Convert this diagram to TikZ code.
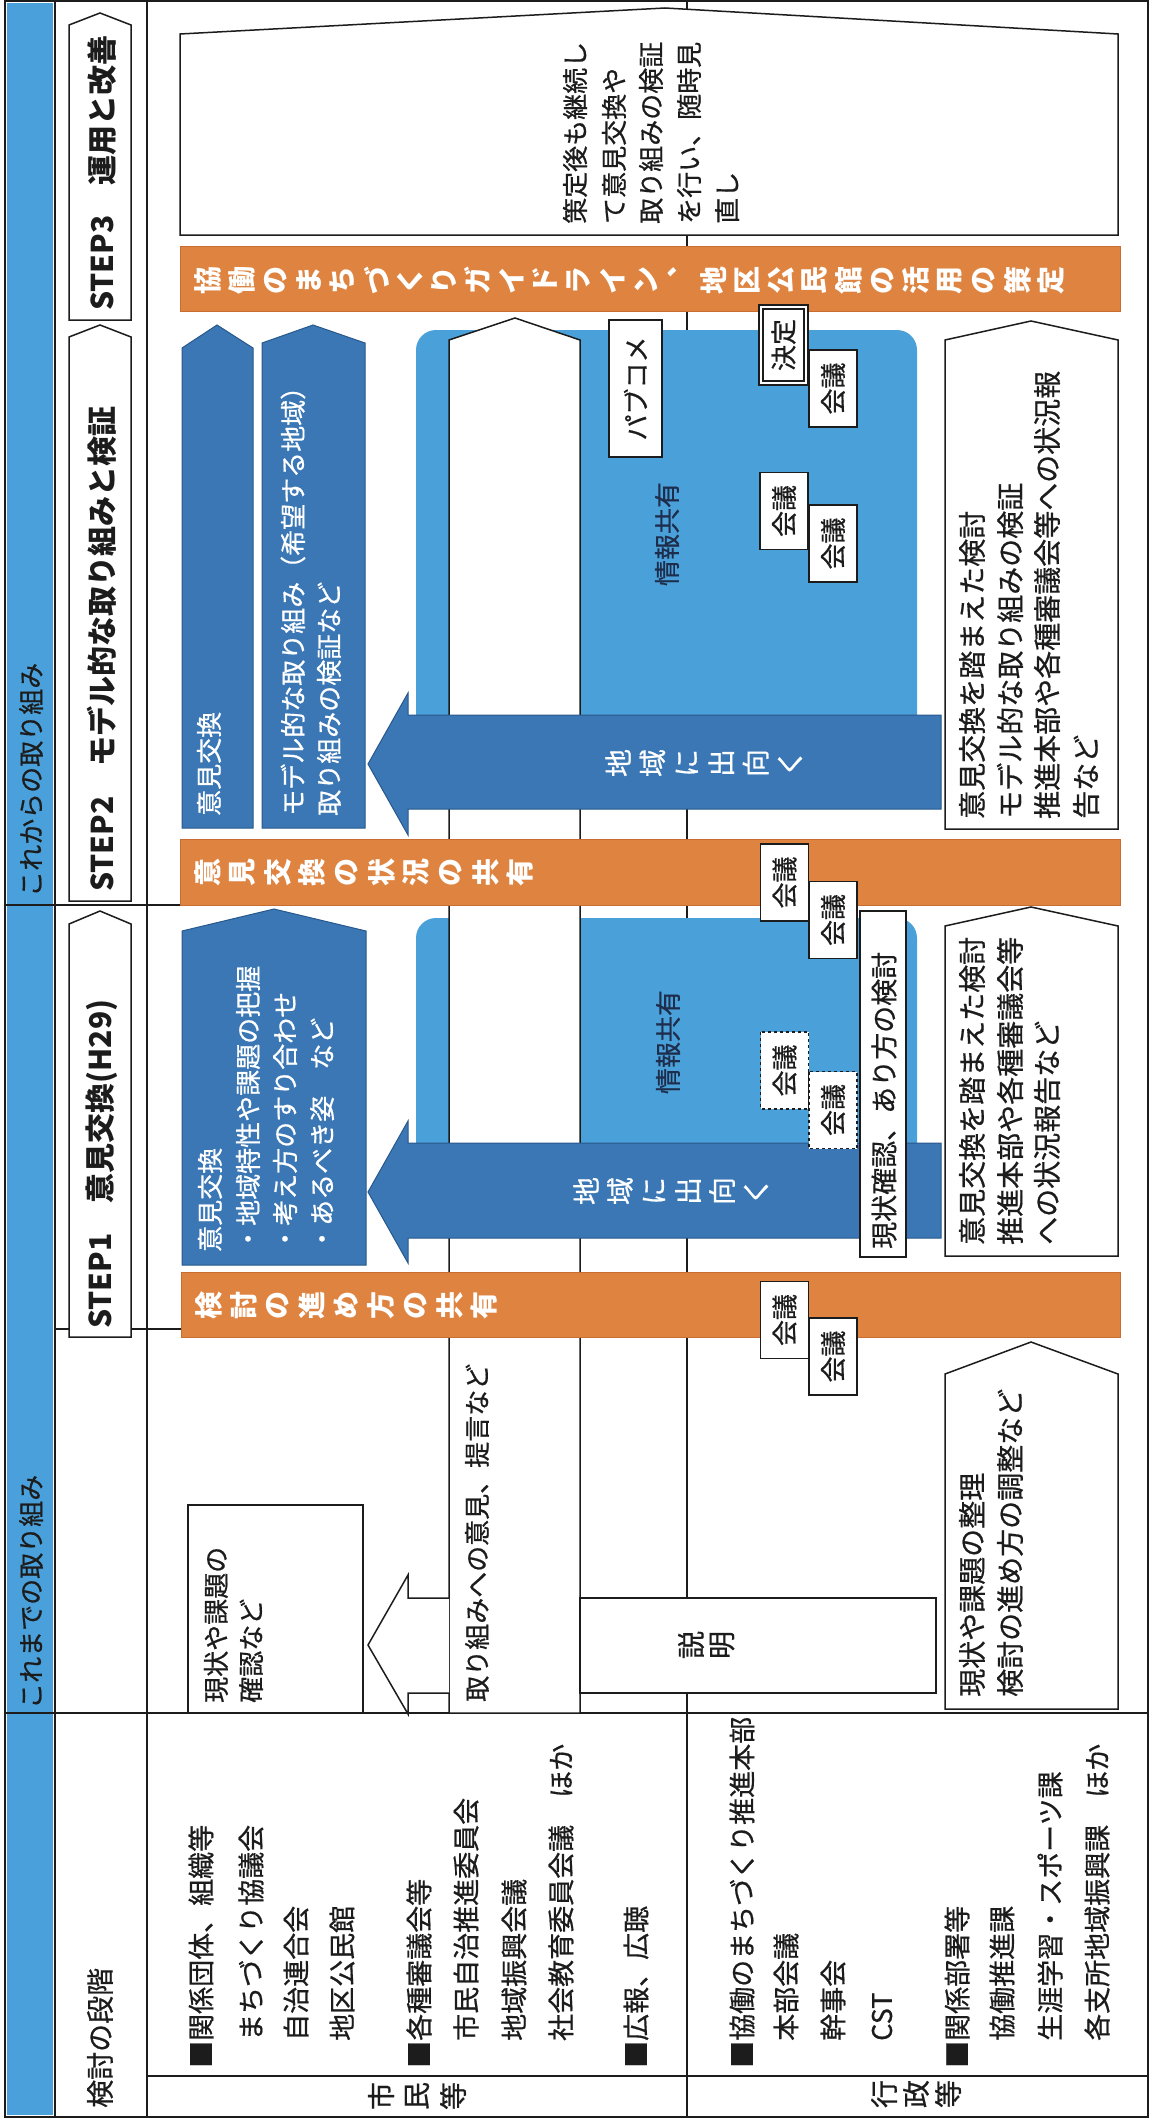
\documentclass[tikz,border=0pt]{standalone}
\usepackage{fontspec}
\setmainfont{Noto Sans CJK JP}
\newfontfamily\rgf{Noto Sans CJK JP}[FakeBold=0.6]
\definecolor{orng}{RGB}{222,131,64}
\definecolor{orngd}{RGB}{200,108,50}
\definecolor{dblue}{RGB}{58,119,180}
\definecolor{dblued}{RGB}{40,88,140}
\definecolor{lblue}{RGB}{74,160,217}
\definecolor{hblue}{RGB}{74,160,218}
\definecolor{ink}{RGB}{28,28,28}
\definecolor{navy}{RGB}{30,45,75}
\begin{document}
\begin{tikzpicture}[x=1pt,y=-1pt,
 tline/.style={draw=ink,line width=1.6pt},
 wshape/.style={draw=ink,fill=white,line width=1.5pt},
 dshape/.style={draw=dblued,fill=dblue,line width=1pt},
 obar/.style={draw=orngd,fill=orng,line width=1pt},
 txt/.style={rotate=90,anchor=west,inner sep=0pt,text=ink,font=\rgf\fontsize{26}{26}\selectfont},
 txtb/.style={txt,font=\rgf\fontsize{28}{28}\selectfont},
 txtl/.style={txt,font=\rgf\fontsize{27}{27}\selectfont},
 wtxt/.style={txt,text=white},
 steptxt/.style={txt,font=\bfseries\fontsize{30}{30}\selectfont},
 barch/.style={rotate=90,inner sep=0pt,text=white,font=\bfseries\fontsize{28}{28}\selectfont},
 armch/.style={rotate=90,inner sep=0pt,text=white,font=\rgf\fontsize{28}{28}\selectfont},
 tch/.style={rotate=90,inner sep=0pt,text=ink,font=\rgf\fontsize{28}{28}\selectfont},
 kbox/.style={rotate=90,draw=ink,fill=white,line width=1.3pt,minimum width=77pt,minimum height=48pt,inner sep=0pt,text=ink,font=\rgf\fontsize{26}{26}\selectfont},
 kdash/.style={kbox,dashed},
]
\useasboundingbox (0,0) rectangle (1154,2119);
\fill[white] (0,0) rectangle (1154,2119);
% header column
\fill[hblue] (7,3) rectangle (53,2115);
% table lines
\draw[tline] (5,1) rectangle (1148,2117);
\draw[tline] (55,1) -- (55,2117);
\draw[tline] (147,1) -- (147,2117);
\draw[tline] (5,905) -- (182,905);
\draw[tline] (55,1329) -- (182,1329);
\draw[tline] (5,1713) -- (1148,1713);
\draw[tline] (147,2076) -- (1148,2076);
\draw[tline] (687,1) -- (687,2117);

% header texts
\node[txt] (h1) at (31,897) {これからの取り組み};
\node[txt] (h2) at (31,1709) {これまでの取り組み};

% step labels
\draw[wshape] (69,320) -- (69,25) -- (100,13) -- (131,25) -- (131,320) -- cycle;
\draw[wshape] (69,901) -- (69,337) -- (100,325) -- (131,337) -- (131,901) -- cycle;
\draw[wshape] (69,1337) -- (69,924) -- (100,911) -- (131,924) -- (131,1337) -- cycle;
\node[steptxt] (s3) at (102,311) {STEP3　運用と改善};
\node[steptxt] (s2) at (102,892) {STEP2　モデル的な取り組みと検証};
\node[steptxt] (s1) at (102,1329) {STEP1　意見交換(H29)};
\node[txtb] (kd) at (100,2108) {検討の段階};

% STEP3 box
\draw[wshape] (180,235) -- (180,34) -- (665,8) -- (1118,34) -- (1118,235) -- cycle;
\node[txt] (t31) at (575,224) {策定後も継続し};
\node[txt] (t32) at (614,224) {て意見交換や};
\node[txt] (t33) at (651,224) {取り組みの検証};
\node[txt] (t34) at (689,224) {を行い、随時見};
\node[txt] (t35) at (727,224) {直し};

% light blue areas
\fill[lblue,rounded corners=20pt] (416,330) rectangle (917,800);
\fill[lblue,rounded corners=20pt] (416,918) rectangle (917,1230);

% long white arrow (citizens)
\draw[wshape] (449,1713) -- (449,340) -- (515,318) -- (580,340) -- (580,1713) -- cycle;

% orange bars
\draw[obar] (180,246) rectangle (1120,311);
\draw[obar] (180,839) rectangle (1120,905);
\draw[obar] (181,1272) rectangle (1120,1337);
\foreach \c [count=\i from 0] in {協,働,の,ま,ち,づ,く,り,ガ,イ,ド,ラ,イ,ン,︑,地,区,公,民,館,の,活,用,の,策,定}
  \node[barch] (b3c\i) at ({208+33.72*\i},280) {\c};
\foreach \c [count=\i from 0] in {意,見,交,換,の,状,況,の,共,有}
  \node[barch] (b2c\i) at ({208+34.7*\i},872) {\c};
\foreach \c [count=\i from 0] in {検,討,の,進,め,方,の,共,有}
  \node[barch] (b1c\i) at ({209+34.4*\i},1305) {\c};

% STEP2 dark shapes
\draw[dshape] (182,828) -- (182,348) -- (217,325) -- (253,348) -- (253,828) -- cycle;
\draw[dshape] (262,828) -- (262,343) -- (313,325) -- (365,343) -- (365,828) -- cycle;
\node[wtxt] (p1) at (209,816) {意見交換};
\node[wtxt] (p21) at (293,816) {モデル的な取り組み（希望する地域）};
\node[wtxt] (p22) at (329,816) {取り組みの検証など};
\draw[dshape] (941,715) -- (408,715) -- (408,693) -- (368,764) -- (408,835) -- (408,809) -- (941,809) -- cycle;
\foreach \c [count=\i from 0] in {地,域,に,出,向,く}
  \node[armch] (a2c\i) at ({618+34.4*\i},763) {\c};

% STEP1 dark shapes
\draw[dshape] (182,1265) -- (182,931) -- (274,909) -- (366,931) -- (366,1265) -- cycle;
\node[wtxt] (q1) at (210,1252) {意見交換};
\node[wtxt] (q2) at (248,1252) {・地域特性や課題の把握};
\node[wtxt] (q3) at (285,1252) {・考え方のすり合わせ};
\node[wtxt] (q4) at (322,1252) {・あるべき姿　など};
\draw[dshape] (941,1143) -- (408,1143) -- (408,1121) -- (368,1192) -- (408,1263) -- (408,1238) -- (941,1238) -- cycle;
\foreach \c [count=\i from 0] in {地,域,に,出,向,く}
  \node[armch] (a1c\i) at ({586+34*\i},1191) {\c};

% info sharing labels
\node[txt,anchor=center,text=navy] (j2) at (667,534) {情報共有};
\node[txt,anchor=center,text=navy] (j1) at (668,1042) {情報共有};

% STEP2 boxes
\node[kbox,minimum width=137pt,minimum height=53pt] (pc) at (635.5,388.5) {パブコメ};
\node[kbox,double,double distance=2.5pt,minimum width=76pt,minimum height=45pt] (kt) at (783.5,345) {決定};
\node[kbox] (k1) at (833,388.5) {会議};
\node[kbox] (k2) at (784,511) {会議};
\node[kbox] (k3) at (833,543.5) {会議};
% bar2 boxes
\node[kbox] (k4) at (784.5,882.5) {会議};
\node[kbox] (k5) at (833,920) {会議};
% STEP1 dashed
\node[kdash] (k6) at (784.5,1070.5) {会議};
\node[kdash] (k7) at (833,1110) {会議};
% bar1 boxes
\node[kbox] (k8) at (784.5,1320) {会議};
\node[kbox] (k9) at (833,1356.5) {会議};

% STEP1 current state box
\draw[wshape] (860,911) rectangle (906,1257);
\node[txtl] (gj) at (884,1249) {現状確認、あり方の検討};

% government pentagons
\draw[wshape] (945,829) -- (945,340) -- (1031,321) -- (1118,340) -- (1118,829) -- cycle;
\node[txtb] (g21) at (972,819) {意見交換を踏まえた検討};
\node[txtb] (g22) at (1010,819) {モデル的な取り組みの検証};
\node[txtb] (g23) at (1047,819) {推進本部や各種審議会等への状況報};
\node[txtb] (g24) at (1086,819) {告など};
\draw[wshape] (945,1256) -- (945,926) -- (1031,907) -- (1118,926) -- (1118,1256) -- cycle;
\node[txtb] (g11) at (972,1245) {意見交換を踏まえた検討};
\node[txtb] (g12) at (1010,1245) {推進本部や各種審議会等};
\node[txtb] (g13) at (1047,1245) {への状況報告など};
\draw[wshape] (945,1709) -- (945,1374) -- (1031,1342) -- (1118,1374) -- (1118,1709) -- cycle;
\node[txtb] (g01) at (972,1697) {現状や課題の整理};
\node[txtb] (g02) at (1010,1697) {検討の進め方の調整など};

% earlier column
\draw[wshape] (188,1505) rectangle (363,1713);
\node[txt] (c1) at (216,1703) {現状や課題の};
\node[txt] (c2) at (251,1703) {確認など};
\draw[wshape] (449,1598) -- (408,1598) -- (408,1575) -- (368,1645) -- (408,1714) -- (408,1693) -- (449,1693);
\node[txt] (c3) at (477,1702) {取り組みへの意見、提言など};
\draw[wshape] (580,1598) rectangle (936,1693);
\foreach \c [count=\i from 0] in {説,明}
  \node[tch] (sm\i) at ({691+31*\i},1645) {\c};

% first column lists
\node[txtl] (l01) at (201,2068) {■関係団体、組織等};
\node[txtl] (l02) at (251,2068) {　まちづくり協議会};
\node[txtl] (l03) at (296,2068) {　自治連合会};
\node[txtl] (l04) at (342,2068) {　地区公民館};
\node[txtl] (l05) at (419,2068) {■各種審議会等};
\node[txtl] (l06) at (466,2068) {　市民自治推進委員会};
\node[txtl] (l07) at (514,2068) {　地域振興会議};
\node[txtl] (l08) at (561,2068) {　社会教育委員会議　ほか};
\node[txtl] (l09) at (636,2068) {■広報、広聴};
\node[txtl] (l10) at (742,2068) {■協働のまちづくり推進本部};
\node[txtl] (l11) at (786,2068) {　本部会議};
\node[txtl] (l12) at (833,2068) {　幹事会};
\node[txtl] (l13) at (882,2068) {　CST};
\node[txtl] (l14) at (957,2068) {■関係部署等};
\node[txtl] (l15) at (1002,2068) {　協働推進課};
\node[txtl] (l16) at (1050,2068) {　生涯学習・スポーツ課};
\node[txtl] (l17) at (1097,2068) {　各支所地域振興課　ほか};

% row labels
\foreach \c [count=\i from 0] in {市,民,等}
  \node[tch] (rs\i) at ({381+36*\i},2096) {\c};
\foreach \c [count=\i from 0] in {行,政,等}
  \node[tch] (rg\i) at ({884+32*\i},2094) {\c};
\end{tikzpicture}
\end{document}
